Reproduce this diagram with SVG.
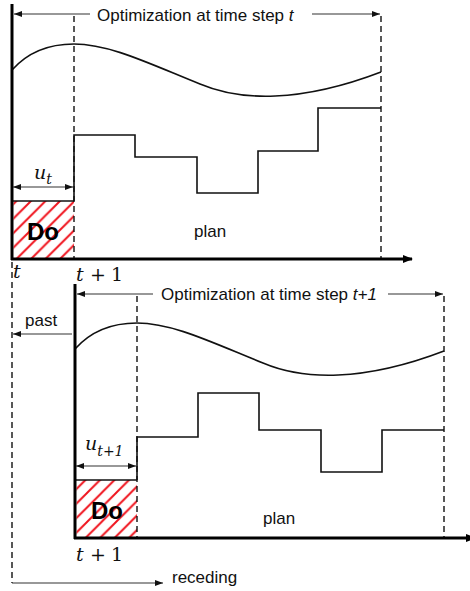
<svg xmlns="http://www.w3.org/2000/svg" width="470" height="591" viewBox="0 0 470 591">
<style>
.ax{stroke:#000;stroke-width:3;fill:none}
.ln{stroke:#111;stroke-width:1.6;fill:none}
.ds{stroke:#111;stroke-width:1.4;stroke-dasharray:6 4;fill:none}
.ar{stroke:#333;stroke-width:1.1;fill:none}
.lab{font-family:"Liberation Sans",Arial,sans-serif;font-size:17px;fill:#111}
.do{font-family:"Liberation Sans",Arial,sans-serif;font-size:24px;font-weight:bold;fill:#000;text-anchor:middle}
.m{font-family:"DejaVu Serif","Liberation Serif",serif;font-size:19px;fill:#111}
.it{font-style:italic}
.hb{stroke:#111;stroke-width:1.6}
</style>
<defs>
<marker id="big" viewBox="0 0 10 8" markerWidth="10" markerHeight="8" refX="9" refY="4" orient="auto" markerUnits="userSpaceOnUse"><path d="M0,0 L10,4 L0,8 z" fill="#000"/></marker>
<marker id="sm" viewBox="0 0 8 6" markerWidth="8" markerHeight="6" refX="8" refY="3" orient="auto-start-reverse" markerUnits="userSpaceOnUse"><path d="M0,0 L8,3 L0,6 z" fill="#111"/></marker>
<pattern id="hatch" patternUnits="userSpaceOnUse" width="14.5" height="14.5" x="0" y="0">
<path d="M-2,16.5 L16.5,-2 M-2,2 L2,-2 M12.5,16.5 L16.5,12.5" stroke="#f0141e" stroke-width="2"/>
</pattern>
<path id="curve" d="M12,70 C28,52 50,44 74,44 C110,44 150,64 200,84 C240,101 300,103 381,72"/>
</defs>

<g id="top-chart">
  <rect x="13.5" y="201" width="60.5" height="57" fill="url(#hatch)"/>
  <line class="hb" x1="12" y1="201" x2="74" y2="201"/>
  <line class="ds" x1="74" y1="16" x2="74" y2="258"/>
  <line class="ds" x1="381" y1="16" x2="381" y2="258"/>
  <use href="#curve" class="ln"/>
  <path class="ln" d="M74,201 V135 H135 V157 H197 V193 H258 V151 H318 V108 H381"/>
  <line class="ax" x1="12" y1="4" x2="12" y2="260"/>
  <line class="ax" x1="11" y1="259" x2="412" y2="259" marker-end="url(#big)"/>
  <text class="do" x="43" y="240">Do</text>
  <text class="lab" x="194" y="237">plan</text>
  <text class="m it" x="34" y="179">u<tspan font-size="14" dy="5">t</tspan></text>
  <text class="m it" x="13" y="278">t</text>
  <text class="m" x="76" y="281"><tspan class="it">t</tspan><tspan x="90">+</tspan><tspan x="111">1</tspan></text>
</g>

<g id="bottom-chart">
  <rect x="76.5" y="480" width="60.5" height="57" fill="url(#hatch)"/>
  <line class="hb" x1="75" y1="480" x2="137" y2="480"/>
  <line class="ds" x1="137" y1="296" x2="137" y2="537"/>
  <line class="ds" x1="444" y1="296" x2="444" y2="537"/>
  <use href="#curve" class="ln" transform="translate(63,279)"/>
  <path class="ln" d="M137,480 V437 H198 V393 H259 V430 H321 V472 H382 V430 H444"/>
  <line class="ax" x1="75" y1="284" x2="75" y2="539"/>
  <line class="ax" x1="74" y1="538" x2="475" y2="538" marker-end="url(#big)"/>
  <text class="do" x="107" y="519">Do</text>
  <text class="lab" x="263" y="524">plan</text>
  <text class="m it" x="85" y="450">u<tspan font-size="14" dy="6">t+1</tspan></text>
  <text class="m" x="76" y="561"><tspan class="it">t</tspan><tspan x="90">+</tspan><tspan x="111">1</tspan></text>
</g>

<g id="connectors">
  <line class="ar" x1="90" y1="14" x2="14" y2="14" marker-end="url(#sm)"/>
  <line class="ar" x1="312" y1="14" x2="380" y2="14" marker-end="url(#sm)"/>
  <line class="ar" x1="13" y1="187" x2="73" y2="187" marker-start="url(#sm)" marker-end="url(#sm)"/>
  <line class="ar" x1="153" y1="294" x2="77" y2="294" marker-end="url(#sm)"/>
  <line class="ar" x1="388" y1="294" x2="443" y2="294" marker-end="url(#sm)"/>
  <line class="ar" x1="76" y1="466" x2="136" y2="466" marker-start="url(#sm)" marker-end="url(#sm)"/>
  <line class="ar" x1="72" y1="334" x2="13" y2="334" marker-end="url(#sm)"/>
  <line class="ds" x1="12" y1="262" x2="12" y2="583"/>
  <line class="ar" x1="12" y1="583" x2="163" y2="583" marker-end="url(#sm)"/>
</g>

<g id="labels">
  <text class="lab" x="97" y="21">Optimization at time step <tspan class="it">t</tspan></text>
  <text class="lab" x="161" y="300">Optimization at time step <tspan class="it">t+1</tspan></text>
  <text class="lab" x="25" y="326">past</text>
  <text class="lab" x="172" y="583">receding</text>
</g>
</svg>
